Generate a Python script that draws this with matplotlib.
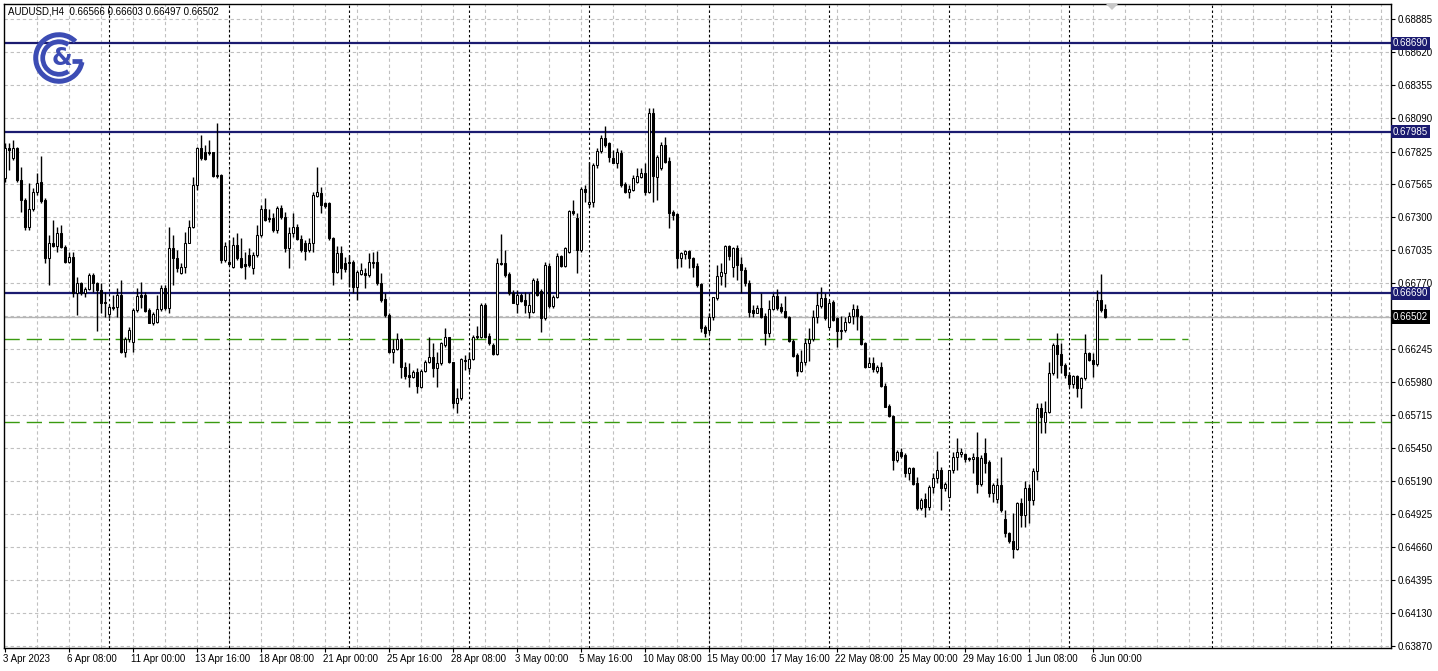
import matplotlib
matplotlib.use("Agg")
import matplotlib.pyplot as plt
import matplotlib.transforms as mtransforms
from matplotlib.patches import Arc, Polygon
import numpy as np

plt.rcParams['font.family'] = ['Liberation Sans', 'DejaVu Sans']

title_text = "AUDUSD,H4  0.66566 0.66603 0.66497 0.66502"

opens = [
0.67610, 0.67850, 0.67770, 0.67850, 0.67597, 0.67437, 0.67224, 0.67363, 0.67504, 0.67578,
0.67437, 0.66971, 0.67091, 0.67069, 0.67171, 0.67064, 0.66944, 0.66979, 0.66691, 0.66771,
0.66691, 0.66723, 0.66837, 0.66771, 0.66717, 0.66624, 0.66525, 0.66584, 0.66584, 0.66677,
0.66224, 0.66325, 0.66300, 0.66557, 0.66677, 0.66677, 0.66557, 0.66456, 0.66464, 0.66563,
0.66736, 0.66571, 0.67051, 0.66971, 0.66856, 0.66904, 0.67096, 0.67224, 0.67557, 0.67850,
0.67824, 0.67818, 0.67818, 0.67637, 0.67637, 0.66957, 0.66944, 0.66904, 0.67077, 0.66971,
0.66923, 0.66997, 0.66891, 0.66997, 0.67157, 0.67363, 0.67296, 0.67296, 0.67197, 0.67370,
0.67304, 0.67051, 0.67171, 0.67219, 0.67123, 0.67091, 0.67037, 0.67091, 0.67469, 0.67496,
0.67410, 0.67410, 0.67130, 0.66864, 0.67011, 0.66931, 0.66939, 0.66944, 0.66744, 0.66845,
0.66851, 0.66837, 0.66931, 0.66944, 0.66771, 0.66643, 0.66517, 0.66224, 0.66243, 0.66323,
0.66099, 0.66037, 0.66024, 0.66064, 0.65944, 0.66072, 0.66144, 0.66179, 0.66091, 0.66131,
0.66277, 0.66339, 0.66139, 0.65811, 0.65851, 0.66157, 0.66091, 0.66163, 0.66349, 0.66339,
0.66597, 0.66349, 0.66277, 0.66205, 0.66936, 0.66930, 0.66845, 0.66690, 0.66605, 0.66677,
0.66637, 0.66544, 0.66544, 0.66792, 0.66712, 0.66491, 0.66909, 0.66589, 0.66659, 0.66989,
0.66912, 0.67024, 0.67349, 0.67291, 0.67037, 0.67523, 0.67405, 0.67424, 0.67717, 0.67832,
0.67930, 0.67890, 0.67770, 0.67736, 0.67810, 0.67565, 0.67504, 0.67517, 0.67584, 0.67624,
0.67650, 0.67504, 0.68130, 0.67624, 0.67690, 0.67877, 0.67752, 0.67339, 0.67323, 0.66971,
0.67005, 0.67032, 0.66971, 0.66909, 0.66765, 0.66424, 0.66397, 0.66504, 0.66651, 0.66829,
0.66856, 0.67069, 0.66904, 0.67051, 0.66925, 0.66877, 0.66770, 0.66557, 0.66536, 0.66570,
0.66509, 0.66370, 0.66562, 0.66669, 0.66578, 0.66552, 0.66498, 0.66312, 0.66197, 0.66072,
0.66144, 0.66291, 0.66322, 0.66498, 0.66589, 0.66650, 0.66424, 0.66624, 0.66490, 0.66397,
0.66397, 0.66464, 0.66509, 0.66562, 0.66509, 0.66291, 0.66104, 0.66131, 0.66072, 0.66098,
0.65949, 0.65789, 0.65709, 0.65357, 0.65424, 0.65397, 0.65251, 0.65291, 0.65171, 0.64971,
0.65043, 0.64979, 0.65144, 0.65211, 0.65277, 0.65131, 0.65064, 0.65277, 0.65379, 0.65403,
0.65405, 0.65371, 0.65363, 0.65384, 0.65165, 0.65411, 0.65341, 0.65091, 0.65043, 0.65155,
0.64883, 0.64771, 0.64712, 0.64648, 0.65011, 0.64918, 0.65131, 0.65037, 0.65269, 0.65771,
0.65664, 0.65744, 0.66051, 0.66275, 0.66203, 0.66117, 0.66037, 0.65963, 0.66029, 0.65931,
0.66011, 0.66211, 0.66157, 0.66123, 0.66637, 0.66566]

highs = [
0.67890, 0.67890, 0.67917, 0.67864, 0.67704, 0.67450, 0.67576, 0.67530, 0.67656, 0.67789,
0.67450, 0.67157, 0.67277, 0.67219, 0.67237, 0.67077, 0.67024, 0.67024, 0.66824, 0.66784,
0.66744, 0.66851, 0.66851, 0.66784, 0.66771, 0.66704, 0.66597, 0.66677, 0.66731, 0.66797,
0.66344, 0.66424, 0.66571, 0.66731, 0.66784, 0.66704, 0.66571, 0.66544, 0.66677, 0.66757,
0.66757, 0.67224, 0.67157, 0.67037, 0.66931, 0.67184, 0.67277, 0.67618, 0.67864, 0.67957,
0.67877, 0.67917, 0.67824, 0.68050, 0.67642, 0.67104, 0.67117, 0.67144, 0.67171, 0.67130,
0.67024, 0.67051, 0.67024, 0.67237, 0.67397, 0.67450, 0.67363, 0.67331, 0.67389, 0.67397,
0.67344, 0.67224, 0.67336, 0.67245, 0.67157, 0.67117, 0.67130, 0.67504, 0.67704, 0.67544,
0.67424, 0.67424, 0.67144, 0.67069, 0.67069, 0.66984, 0.66997, 0.66957, 0.66877, 0.66931,
0.66891, 0.67011, 0.67024, 0.67032, 0.66851, 0.66691, 0.66531, 0.66323, 0.66376, 0.66330,
0.66144, 0.66136, 0.66077, 0.66091, 0.66083, 0.66157, 0.66344, 0.66296, 0.66224, 0.66304,
0.66411, 0.66344, 0.66144, 0.65931, 0.66171, 0.66197, 0.66224, 0.66357, 0.66429, 0.66610,
0.66610, 0.66371, 0.66291, 0.66970, 0.67165, 0.67037, 0.66864, 0.66717, 0.66717, 0.66696,
0.66704, 0.66690, 0.66810, 0.66810, 0.66722, 0.66944, 0.66930, 0.66677, 0.67016, 0.66997,
0.67064, 0.67357, 0.67437, 0.67331, 0.67544, 0.67557, 0.67744, 0.67731, 0.67850, 0.67957,
0.68029, 0.67904, 0.67837, 0.67850, 0.67837, 0.67584, 0.67557, 0.67637, 0.67690, 0.67690,
0.67731, 0.68170, 0.68170, 0.67797, 0.67904, 0.67944, 0.67784, 0.67357, 0.67331, 0.67024,
0.67037, 0.67037, 0.66984, 0.66931, 0.66771, 0.66437, 0.66531, 0.66664, 0.66917, 0.66931,
0.67077, 0.67077, 0.67064, 0.67077, 0.66984, 0.66900, 0.66797, 0.66597, 0.66597, 0.66696,
0.66530, 0.66637, 0.66690, 0.66722, 0.66610, 0.66669, 0.66509, 0.66322, 0.66210, 0.66237,
0.66330, 0.66410, 0.66557, 0.66704, 0.66738, 0.66690, 0.66637, 0.66637, 0.66504, 0.66509,
0.66504, 0.66544, 0.66605, 0.66597, 0.66517, 0.66304, 0.66178, 0.66178, 0.66117, 0.66144,
0.65971, 0.65805, 0.65717, 0.65437, 0.65451, 0.65411, 0.65304, 0.65304, 0.65224, 0.65051,
0.65091, 0.65157, 0.65251, 0.65432, 0.65304, 0.65180, 0.65280, 0.65424, 0.65531, 0.65451,
0.65411, 0.65380, 0.65416, 0.65579, 0.65400, 0.65531, 0.65357, 0.65176, 0.65211, 0.65379,
0.64957, 0.64784, 0.64931, 0.65024, 0.65051, 0.65192, 0.65165, 0.65291, 0.65811, 0.65811,
0.65829, 0.66144, 0.66291, 0.66376, 0.66291, 0.66136, 0.66064, 0.66037, 0.66037, 0.66024,
0.66365, 0.66224, 0.66211, 0.66717, 0.66845, 0.66603]

lows = [
0.67584, 0.67677, 0.67757, 0.67584, 0.67344, 0.67197, 0.67197, 0.67352, 0.67477, 0.67416,
0.66931, 0.66757, 0.67064, 0.67024, 0.67051, 0.66931, 0.66931, 0.66664, 0.66517, 0.66677,
0.66659, 0.66717, 0.66704, 0.66392, 0.66531, 0.66504, 0.66491, 0.66557, 0.66504, 0.66211,
0.66179, 0.66304, 0.66224, 0.66544, 0.66571, 0.66544, 0.66451, 0.66437, 0.66451, 0.66552,
0.66557, 0.66531, 0.66757, 0.66864, 0.66845, 0.66851, 0.67091, 0.67210, 0.67517, 0.67757,
0.67757, 0.67797, 0.67624, 0.67610, 0.66931, 0.66944, 0.66917, 0.66891, 0.66957, 0.66891,
0.66803, 0.66904, 0.66845, 0.66984, 0.67144, 0.67272, 0.67264, 0.67184, 0.67171, 0.67288,
0.67024, 0.66891, 0.67144, 0.67117, 0.67024, 0.66957, 0.67024, 0.67024, 0.67464, 0.67331,
0.67370, 0.67117, 0.66757, 0.66851, 0.66803, 0.66864, 0.66744, 0.66691, 0.66637, 0.66837,
0.66731, 0.66824, 0.66891, 0.66757, 0.66624, 0.66504, 0.66211, 0.66131, 0.66237, 0.66011,
0.66003, 0.65944, 0.66011, 0.65896, 0.65931, 0.66064, 0.66131, 0.66019, 0.65944, 0.66117,
0.66264, 0.66131, 0.65771, 0.65731, 0.65837, 0.66077, 0.66064, 0.66157, 0.66323, 0.66330,
0.66330, 0.66277, 0.66197, 0.66197, 0.66917, 0.66824, 0.66677, 0.66610, 0.66531, 0.66624,
0.66531, 0.66491, 0.66531, 0.66669, 0.66384, 0.66477, 0.66570, 0.66570, 0.66650, 0.66904,
0.66904, 0.67011, 0.67317, 0.66856, 0.67024, 0.67424, 0.67384, 0.67384, 0.67690, 0.67810,
0.67864, 0.67744, 0.67731, 0.67690, 0.67544, 0.67491, 0.67451, 0.67512, 0.67570, 0.67610,
0.67477, 0.67491, 0.67424, 0.67437, 0.67677, 0.67731, 0.67210, 0.67277, 0.66891, 0.66904,
0.66963, 0.66891, 0.66824, 0.66744, 0.66384, 0.66344, 0.66371, 0.66477, 0.66637, 0.66757,
0.66744, 0.66957, 0.66824, 0.66797, 0.66691, 0.66750, 0.66504, 0.66504, 0.66530, 0.66490,
0.66277, 0.66344, 0.66557, 0.66557, 0.66530, 0.66490, 0.66304, 0.66178, 0.66029, 0.66064,
0.66117, 0.66152, 0.66312, 0.66450, 0.66570, 0.66477, 0.66410, 0.66472, 0.66258, 0.66322,
0.66384, 0.66456, 0.66445, 0.66397, 0.66277, 0.66090, 0.66098, 0.66064, 0.66056, 0.65944,
0.65779, 0.65704, 0.65277, 0.65344, 0.65371, 0.65224, 0.65197, 0.65157, 0.64957, 0.64957,
0.64899, 0.64957, 0.65091, 0.65176, 0.64957, 0.65110, 0.65051, 0.65251, 0.65277, 0.65384,
0.65344, 0.65350, 0.65251, 0.65091, 0.65150, 0.65251, 0.65064, 0.65024, 0.65011, 0.64944,
0.64744, 0.64696, 0.64571, 0.64638, 0.64824, 0.64824, 0.64851, 0.64997, 0.65197, 0.65571,
0.65571, 0.65731, 0.66037, 0.66011, 0.66051, 0.66011, 0.65944, 0.65931, 0.65864, 0.65771,
0.65997, 0.66150, 0.66024, 0.66109, 0.66544, 0.66497]

closes = [
0.67850, 0.67837, 0.67850, 0.67597, 0.67437, 0.67224, 0.67363, 0.67504, 0.67570, 0.67429,
0.66971, 0.67091, 0.67069, 0.67176, 0.67059, 0.66944, 0.66979, 0.66691, 0.66771, 0.66691,
0.66723, 0.66837, 0.66771, 0.66717, 0.66611, 0.66616, 0.66579, 0.66571, 0.66677, 0.66224,
0.66325, 0.66397, 0.66557, 0.66669, 0.66664, 0.66552, 0.66456, 0.66525, 0.66563, 0.66736,
0.66571, 0.67051, 0.66971, 0.66891, 0.66904, 0.67096, 0.67224, 0.67557, 0.67850, 0.67770,
0.67762, 0.67811, 0.67629, 0.67629, 0.66957, 0.67069, 0.66925, 0.67077, 0.66971, 0.66904,
0.66912, 0.66917, 0.66997, 0.67157, 0.67363, 0.67277, 0.67283, 0.67197, 0.67370, 0.67299,
0.67051, 0.67171, 0.67219, 0.67123, 0.67037, 0.67032, 0.67091, 0.67477, 0.67504, 0.67397,
0.67389, 0.67130, 0.66864, 0.67011, 0.66891, 0.66885, 0.66931, 0.66744, 0.66864, 0.66877,
0.66837, 0.66944, 0.66944, 0.66771, 0.66637, 0.66517, 0.66224, 0.66243, 0.66323, 0.66099,
0.66029, 0.66024, 0.66064, 0.65950, 0.66072, 0.66144, 0.66179, 0.66091, 0.66131, 0.66291,
0.66344, 0.66139, 0.65816, 0.65851, 0.66163, 0.66149, 0.66163, 0.66339, 0.66339, 0.66597,
0.66344, 0.66291, 0.66205, 0.66930, 0.66925, 0.66837, 0.66690, 0.66616, 0.66677, 0.66632,
0.66597, 0.66597, 0.66797, 0.66677, 0.66491, 0.66917, 0.66589, 0.66659, 0.66989, 0.66912,
0.67051, 0.67349, 0.67331, 0.67037, 0.67523, 0.67504, 0.67424, 0.67717, 0.67832, 0.67930,
0.67877, 0.67784, 0.67736, 0.67824, 0.67557, 0.67504, 0.67523, 0.67610, 0.67629, 0.67650,
0.67504, 0.68130, 0.67629, 0.67784, 0.67877, 0.67744, 0.67331, 0.67317, 0.66971, 0.67011,
0.67032, 0.66971, 0.66904, 0.66757, 0.66411, 0.66371, 0.66504, 0.66659, 0.66829, 0.66864,
0.67069, 0.66989, 0.67051, 0.66917, 0.66877, 0.66770, 0.66544, 0.66536, 0.66570, 0.66504,
0.66370, 0.66562, 0.66669, 0.66570, 0.66552, 0.66498, 0.66312, 0.66189, 0.66072, 0.66144,
0.66296, 0.66322, 0.66498, 0.66597, 0.66650, 0.66490, 0.66616, 0.66477, 0.66392, 0.66392,
0.66464, 0.66509, 0.66562, 0.66509, 0.66285, 0.66104, 0.66131, 0.66083, 0.66098, 0.65949,
0.65784, 0.65709, 0.65357, 0.65424, 0.65389, 0.65251, 0.65291, 0.65165, 0.64971, 0.65037,
0.64979, 0.65144, 0.65211, 0.65277, 0.65131, 0.65165, 0.65277, 0.65379, 0.65419, 0.65419,
0.65365, 0.65363, 0.65384, 0.65165, 0.65371, 0.65336, 0.65091, 0.65155, 0.65155, 0.64957,
0.64771, 0.64712, 0.64643, 0.65011, 0.64918, 0.65131, 0.65037, 0.65269, 0.65771, 0.65704,
0.65744, 0.66051, 0.66275, 0.66203, 0.66117, 0.66037, 0.65963, 0.66029, 0.65931, 0.66011,
0.66211, 0.66157, 0.66123, 0.66637, 0.66557, 0.66502]

# time axis labels (bar index of each label) and weekly separators
x_label_bars = [0, 16, 32, 48, 64, 80, 96, 112, 128, 144, 160, 176, 192, 208, 224, 240, 256, 272]
x_labels = ["3 Apr 2023", "6 Apr 08:00", "11 Apr 00:00", "13 Apr 16:00", "18 Apr 08:00",
            "21 Apr 00:00", "25 Apr 16:00", "28 Apr 08:00", "3 May 00:00", "5 May 16:00",
            "10 May 08:00", "15 May 00:00", "17 May 16:00", "22 May 08:00", "25 May 00:00",
            "29 May 16:00", "1 Jun 08:00", "6 Jun 00:00"]
week_sep_bars = [26, 56, 86, 116, 146, 176, 206, 236, 266, 301.75, 331.5]

y_ticks = [0.68885, 0.68620, 0.68355, 0.68090, 0.67825, 0.67565, 0.67300, 0.67035, 0.66770,
           0.66245, 0.65980, 0.65715, 0.65450, 0.65190, 0.64925, 0.64660, 0.64395, 0.64130, 0.63870]
y_tick_labels = ["%.5f" % v for v in y_ticks]

navy_levels = [0.68690, 0.67985, 0.66690]
bid_price = 0.66502
green_levels = [0.66326, 0.65662]
green_end_bar = [295.75, None]

NAVY = '#1b1b70'
GREEN = '#3a9a10'
GRID = '#c0c0c0'

W, H = 1438, 671
fig = plt.figure(figsize=(W / 100, H / 100), dpi=100)
Lp, Rp, Tp, Bp = 4, 1391, 4, 648
ax = fig.add_axes([Lp / W, 1 - Bp / H, (Rp - Lp) / W, (Bp - Tp) / H])
xmin, xmax = -0.25, 346.5
ymin, ymax = 0.63854, 0.69005
ax.set_xlim(xmin, xmax)
ax.set_ylim(ymin, ymax)

# grid
for gx in range(8, 347, 8):
    ax.axvline(gx, color=GRID, lw=0.8, ls=(0, (3, 2.5)), zorder=0)
for gy in y_ticks + [0.66507]:
    ax.axhline(gy, color=GRID, lw=0.8, ls=(0, (3, 2.5)), zorder=0)
for sx in week_sep_bars:
    ax.axvline(sx, color='black', lw=0.8, ls=(0, (2.2, 2.2)), zorder=1)

# levels
for lv in navy_levels:
    ax.axhline(lv, color=NAVY, lw=1.6, zorder=2)
ax.axhline(bid_price, color='#b4b4b4', lw=1.0, zorder=2)
for lv, end in zip(green_levels, green_end_bar):
    xe = xmax if end is None else end
    ax.plot([xmin, xe], [lv, lv], color=GREEN, lw=1.0, ls=(0, (11, 5)), zorder=2)

# candles
n = len(opens)
xs = np.arange(n)
bot = [min(o, c) for o, c in zip(opens, closes)]
hgt = [abs(c - o) for o, c in zip(opens, closes)]
cols = ['white' if c >= o else 'black' for o, c in zip(opens, closes)]
ax.vlines(xs, lows, highs, colors='black', lw=1.0, zorder=3)
ax.bar(xs, hgt, width=0.5, bottom=bot, color=cols, edgecolor='black', linewidth=0.75, zorder=4)

# axes styling
for s in ax.spines.values():
    s.set_color('black')
    s.set_linewidth(1.0)
ax.yaxis.tick_right()
ax.set_yticks(y_ticks)
ax.set_yticklabels(y_tick_labels)
ax.tick_params(axis='y', direction='out', length=3, width=0.8, pad=2, labelsize=7, colors='black')
ax.set_xticks(x_label_bars)
ax.set_xticklabels([])
ax.tick_params(axis='x', direction='out', length=3, width=0.8)

trans_x = mtransforms.blended_transform_factory(ax.transData, ax.transAxes)
for b, lab in zip(x_label_bars, x_labels):
    ax.text(b - 0.4, -0.0095, lab, transform=trans_x, ha='left', va='top', fontsize=7, clip_on=False)

trans_y = mtransforms.blended_transform_factory(ax.transAxes, ax.transData)
for lv in navy_levels:
    ax.text(1.0015, lv, "%.5f" % lv, transform=trans_y, ha='left', va='center', fontsize=7,
            color='white', bbox=dict(boxstyle='square,pad=0.18', fc=NAVY, ec='none'), clip_on=False, zorder=6)
ax.text(1.0015, bid_price, "%.5f" % bid_price, transform=trans_y, ha='left', va='center', fontsize=7,
        color='white', bbox=dict(boxstyle='square,pad=0.18', fc='black', ec='none'), clip_on=False, zorder=6)

# title
fig.text(8 / W, 1 - 12 / H, title_text, ha='left', va='center', fontsize=7, color='black')

# shift marker triangle at top
tri = Polygon([(1106 / W, 1 - 4 / H), (1118 / W, 1 - 4 / H), (1112 / W, 1 - 10 / H)],
              closed=True, transform=fig.transFigure, fc='#c8c8c8', ec='none')
fig.patches.append(tri)

# logo
lax = fig.add_axes([31 / W, 1 - 85 / H, 56 / W, 54 / H])
lax.set_xlim(-1.2, 1.2)
lax.set_ylim(-1.16, 1.16)
lax.set_aspect('equal')
lax.axis('off')
LOGO = '#3c4cb4'
lax.add_patch(Arc((0, 0), 2.0, 2.0, theta1=45, theta2=350, color=LOGO, lw=3.6))
lax.add_patch(Arc((0, 0), 1.4, 1.4, theta1=55, theta2=305, color=LOGO, lw=3.4))
lax.plot([0.55, 1.0], [-0.12, -0.12], color=LOGO, lw=3.4, solid_capstyle='butt')
lax.text(0.12, 0.0, "&", ha='center', va='center', fontsize=17, fontweight='bold', color=LOGO,
         family=['DejaVu Sans'])

fig.savefig('out.png', dpi=100)
